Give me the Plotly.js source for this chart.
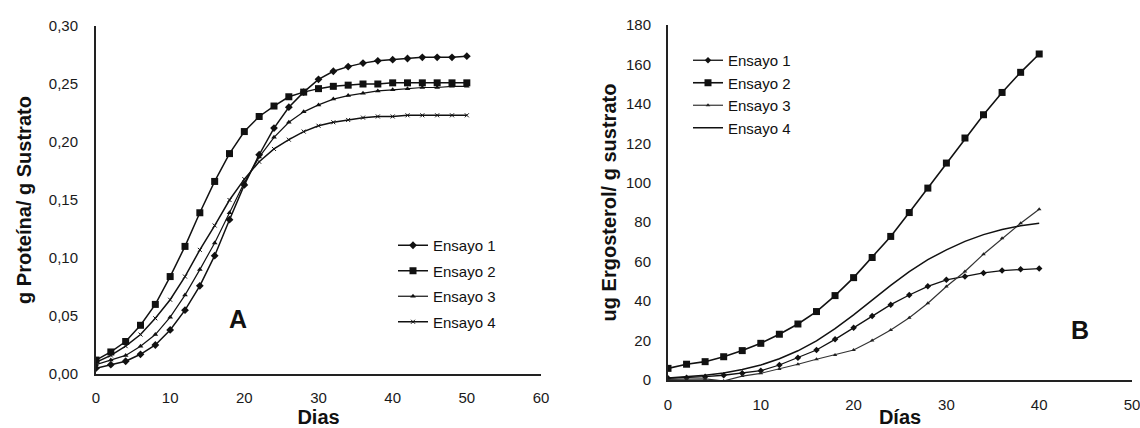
<!DOCTYPE html>
<html>
<head>
<meta charset="utf-8">
<script src="https://cdn.plot.ly/plotly-3.0.1.min.js"></script>
<style>html,body{margin:0;padding:0;background:#fff;}#chart{width:1140px;height:428px;}</style>
</head>
<body>
<div id="chart"></div>
<script>
// ---- Panel A: protein (g Proteína / g Sustrato) vs days ----
const diasA = [0,2,4,6,8,10,12,14,16,18,20,22,24,26,28,30,32,34,36,38,40,42,44,46,48,50];
const protEnsayo1 = [0.005,0.008,0.011,0.017,0.025,0.038,0.055,0.076,0.102,0.133,0.163,0.189,0.212,0.230,0.243,0.254,0.261,0.265,0.268,0.270,0.271,0.272,0.273,0.273,0.273,0.274];
const protEnsayo2 = [0.012,0.019,0.028,0.042,0.060,0.084,0.110,0.139,0.166,0.190,0.209,0.222,0.231,0.239,0.243,0.246,0.248,0.249,0.250,0.250,0.251,0.251,0.251,0.251,0.251,0.251];
const protEnsayo3 = [0.008,0.012,0.016,0.024,0.034,0.049,0.068,0.090,0.113,0.139,0.165,0.187,0.204,0.217,0.226,0.232,0.237,0.240,0.242,0.244,0.245,0.246,0.247,0.247,0.248,0.248];
const protEnsayo4 = [0.010,0.016,0.024,0.034,0.048,0.064,0.084,0.107,0.128,0.150,0.168,0.183,0.194,0.202,0.209,0.214,0.217,0.219,0.221,0.222,0.222,0.223,0.223,0.223,0.223,0.223];

// ---- Panel B: ergosterol (ug / g sustrato) vs days ----
const diasB = [0,2,4,6,8,10,12,14,16,18,20,22,24,26,28,30,32,34,36,38,40];
const ergEnsayo1 = [0.9,1.2,1.7,2.4,3.4,4.7,7.6,11.3,15.2,20.6,26.5,32.5,38.2,43.1,47.5,50.8,52.5,54.3,55.5,56.1,56.5];
const ergEnsayo2 = [5.9,8.0,9.3,11.8,14.9,18.6,23.2,28.4,34.7,42.8,51.9,62.1,72.8,84.9,97.3,110.0,122.7,134.5,145.8,156.0,165.3];
const ergEnsayo3 = [0.3,0.4,0.6,-0.5,2.0,3.4,5.6,8.0,10.5,12.7,15.2,20.0,25.4,31.6,38.9,47.4,55.0,63.8,71.9,79.5,86.6];
const ergEnsayo4 = [1.0,1.6,2.4,3.6,5.3,7.6,10.8,14.8,19.8,26.0,33.0,40.5,48.0,55.0,61.0,66.0,70.3,73.7,76.3,78.2,79.5];

const seriesNames = ['Ensayo 1','Ensayo 2','Ensayo 3','Ensayo 4'];
const FAM = 'Liberation Sans, Arial, sans-serif';
const tickFont = {family: FAM, size: 15, color: '#1a1a1a'};
const titleFont = {family: FAM, size: 20, color: '#111', weight: 'bold'};
const K = '#111';

const traces = [
  {x: diasA, y: protEnsayo1, name: seriesNames[0], mode: 'lines+markers', xaxis: 'x', yaxis: 'y', legend: 'legend', legendgroup: 'a1',
   line: {color: K, width: 1.5}, marker: {symbol: 'diamond', size: 6, color: K}},
  {x: diasA, y: protEnsayo2, name: seriesNames[1], mode: 'lines+markers', xaxis: 'x', yaxis: 'y', legend: 'legend', legendgroup: 'a2',
   line: {color: K, width: 1.5}, marker: {symbol: 'square', size: 7, color: K}},
  {x: diasA, y: protEnsayo3, name: seriesNames[2], mode: 'lines+markers', xaxis: 'x', yaxis: 'y', legend: 'legend', legendgroup: 'a3',
   line: {color: K, width: 1.2}, marker: {symbol: 'triangle-up', size: 5, color: K}},
  {x: diasA, y: protEnsayo4, name: seriesNames[3], mode: 'lines+markers', xaxis: 'x', yaxis: 'y', legend: 'legend', legendgroup: 'a4',
   line: {color: K, width: 1.5}, marker: {symbol: 'x-thin', size: 4, color: K, line: {color: K, width: 1}}},

  {x: diasB, y: ergEnsayo1, name: seriesNames[0], mode: 'lines+markers', xaxis: 'x2', yaxis: 'y2', legend: 'legend2', legendgroup: 'b1',
   line: {color: K, width: 1.3}, marker: {symbol: 'diamond', size: 5, color: K}},
  {x: diasB, y: ergEnsayo2, name: seriesNames[1], mode: 'lines+markers', xaxis: 'x2', yaxis: 'y2', legend: 'legend2', legendgroup: 'b2',
   line: {color: K, width: 1.6}, marker: {symbol: 'square', size: 7, color: K}},
  {x: diasB, y: ergEnsayo3, name: seriesNames[2], mode: 'lines+markers', xaxis: 'x2', yaxis: 'y2', legend: 'legend2', legendgroup: 'b3',
   line: {color: '#333', width: 1.2}, marker: {symbol: 'triangle-up', size: 4, color: '#222'}},
  {x: diasB, y: ergEnsayo4, name: seriesNames[3], mode: 'lines', xaxis: 'x2', yaxis: 'y2', legend: 'legend2', legendgroup: 'b4',
   line: {color: K, width: 1.5}}
];

const W = 1140, H = 428;
const axBase = {showgrid: false, zeroline: false, showline: true, linecolor: '#222', linewidth: 2,
  ticks: '', tickfont: tickFont, fixedrange: true, ticklabeloverflow: 'allow'};

const legFont = {family: FAM, size: 15, color: '#111'};

const layout = {
  width: W, height: H,
  margin: {l: 0, r: 0, t: 0, b: 0},
  paper_bgcolor: '#fff', plot_bgcolor: '#fff',
  separators: ',.',
  font: {family: FAM, color: '#111'},
  xaxis: Object.assign({}, axBase, {domain: [96/W, 541/W], range: [0, 60], tickvals: [0,10,20,30,40,50,60],
    ticklabelstandoff: 9, anchor: 'y', title: {text: 'Dias', font: titleFont, standoff: 4}}),
  yaxis: Object.assign({}, axBase, {domain: [54/H, 402/H], range: [0, 0.30], tickvals: [0,0.05,0.10,0.15,0.20,0.25,0.30],
    ticklabelstandoff: 13, tickformat: '.2f', anchor: 'x', title: {text: 'g Proteína/ g Sustrato', font: titleFont, standoff: 12}}),
  xaxis2: Object.assign({}, axBase, {domain: [668/W, 1132/W], range: [0, 50], tickvals: [0,10,20,30,40,50],
    ticklabelstandoff: 10, anchor: 'y2', title: {text: 'Días', font: titleFont, standoff: 6}}),
  yaxis2: Object.assign({}, axBase, {domain: [48/H, 403/H], range: [0, 180], tickvals: [0,20,40,60,80,100,120,140,160,180],
    ticklabelstandoff: 12, anchor: 'x2', title: {text: 'ug Ergosterol/ g sustrato', font: titleFont, standoff: 4}}),
  legend: {x: 393/W, y: 1 - 229/H, xanchor: 'left', yanchor: 'top', bgcolor: 'rgba(0,0,0,0)',
    font: legFont, itemwidth: 30, traceorder: 'grouped', tracegroupgap: 3},
  legend2: {x: 688/W, y: 1 - 44/H, xanchor: 'left', yanchor: 'top', bgcolor: 'rgba(0,0,0,0)',
    font: legFont, itemwidth: 30, traceorder: 'grouped', tracegroupgap: 0},
  showlegend: true,
  annotations: [
    {text: 'A', x: 238/W, y: 1 - 319/H, xref: 'paper', yref: 'paper', xanchor: 'center', yanchor: 'middle', showarrow: false,
     font: {family: FAM, size: 25, color: '#111', weight: 'bold'}},
    {text: 'B', x: 1080/W, y: 1 - 330/H, xref: 'paper', yref: 'paper', xanchor: 'center', yanchor: 'middle', showarrow: false,
     font: {family: FAM, size: 25, color: '#111', weight: 'bold'}}
  ]
};

Plotly.newPlot('chart', traces, layout, {staticPlot: true, displayModeBar: false});
</script>
</body>
</html>
